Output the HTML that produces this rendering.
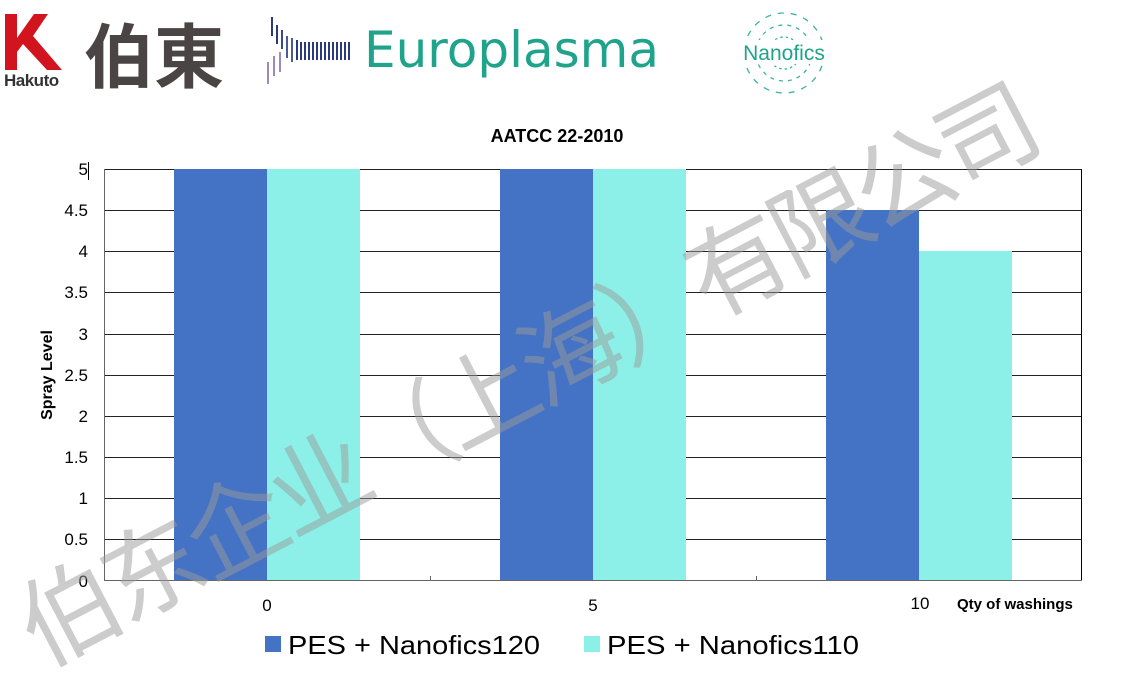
<!DOCTYPE html>
<html><head><meta charset="utf-8"><style>
html,body{margin:0;padding:0;background:#fff;}
body{width:1138px;height:677px;overflow:hidden;position:relative;font-family:"Liberation Sans",sans-serif;}
svg{display:block;}
</style></head><body>
<svg width="1138" height="677" viewBox="0 0 1138 677" xmlns="http://www.w3.org/2000/svg" style="position:absolute;left:0;top:0;overflow:hidden">
<polygon points="5,14 17,14 17,38 34,14 48,14 33,36 62,70 47,70 23,44 17,52 17,70 5,70" fill="#d2141e"/>
<text x="4" y="86" font-size="17" font-weight="bold" fill="#333" font-family="Liberation Sans,sans-serif" letter-spacing="-0.5">Hakuto</text>
<text x="84" y="82" font-size="70" fill="#4a4444" font-family="Liberation Sans,Noto Sans CJK SC,sans-serif" font-weight="bold">伯東</text>
<g stroke-width="2">
<line x1="272" y1="17" x2="272" y2="36" stroke="#2a3a7a"/>
<line x1="277" y1="25" x2="277" y2="44" stroke="#2a3a7a"/>
<line x1="282" y1="30" x2="282" y2="49" stroke="#3a4a8a"/>
<line x1="287" y1="36" x2="287" y2="58" stroke="#4a5a9a"/>
<line x1="292" y1="38" x2="292" y2="62" stroke="#4a5a9a"/>
<line x1="297" y1="40" x2="297" y2="60" stroke="#2a3a7a"/>
<line x1="301" y1="42" x2="301" y2="60" stroke="#2a3a7a"/>
<line x1="305" y1="42" x2="305" y2="60" stroke="#2a3a7a"/>
<line x1="309" y1="42" x2="309" y2="60" stroke="#2a3a7a"/>
<line x1="313" y1="42" x2="313" y2="60" stroke="#2a3a7a"/>
<line x1="317" y1="42" x2="317" y2="60" stroke="#2a3a7a"/>
<line x1="321" y1="42" x2="321" y2="60" stroke="#2a3a7a"/>
<line x1="325" y1="42" x2="325" y2="60" stroke="#2a3a7a"/>
<line x1="329" y1="42" x2="329" y2="60" stroke="#2a3a7a"/>
<line x1="333" y1="42" x2="333" y2="60" stroke="#2a3a7a"/>
<line x1="337" y1="42" x2="337" y2="60" stroke="#2a3a7a"/>
<line x1="341" y1="42" x2="341" y2="60" stroke="#2a3a7a"/>
<line x1="345" y1="42" x2="345" y2="60" stroke="#2a3a7a"/>
<line x1="349" y1="42" x2="349" y2="60" stroke="#2a3a7a"/>
<line x1="268" y1="62" x2="268" y2="84" stroke="#9a8ac0"/>
<line x1="274" y1="56" x2="274" y2="76" stroke="#9a8ac0"/>
<line x1="280" y1="52" x2="280" y2="72" stroke="#9a8ac0"/>
</g>
<text x="364" y="67" font-size="50" fill="#1fa38a" font-family="DejaVu Sans,sans-serif">Europlasma</text>
<g fill="none" stroke="#3cb3a0" stroke-width="1.3">
<circle cx="784" cy="53" r="16" stroke-dasharray="2.5 3"/>
<circle cx="784" cy="53" r="28" stroke-dasharray="4 5"/>
<circle cx="784" cy="53" r="40" stroke-dasharray="6 7"/>
</g>
<rect x="730" y="40" width="108" height="24" fill="#fff"/>
<text x="784" y="60" text-anchor="middle" font-size="21" fill="#1fa38a" font-family="Liberation Sans,sans-serif">Nanofics</text>

<text x="557" y="142" text-anchor="middle" font-size="18" font-weight="bold" fill="#000">AATCC 22-2010</text>
<g stroke="#222" stroke-width="1">
<line x1="104" y1="169.5" x2="1082" y2="169.5"/>
<line x1="104" y1="210.5" x2="1082" y2="210.5"/>
<line x1="104" y1="251.5" x2="1082" y2="251.5"/>
<line x1="104" y1="292.5" x2="1082" y2="292.5"/>
<line x1="104" y1="334.5" x2="1082" y2="334.5"/>
<line x1="104" y1="375.5" x2="1082" y2="375.5"/>
<line x1="104" y1="416.5" x2="1082" y2="416.5"/>
<line x1="104" y1="457.5" x2="1082" y2="457.5"/>
<line x1="104" y1="498.5" x2="1082" y2="498.5"/>
<line x1="104" y1="539.5" x2="1082" y2="539.5"/>
</g>
<rect x="174" y="169" width="93" height="412" fill="#4472c4"/>
<rect x="267" y="169" width="93" height="412" fill="#8cf0e8"/>
<rect x="500" y="169" width="93" height="412" fill="#4472c4"/>
<rect x="593" y="169" width="93" height="412" fill="#8cf0e8"/>
<rect x="826" y="210" width="93" height="371" fill="#4472c4"/>
<rect x="919" y="251" width="93" height="330" fill="#8cf0e8"/>
<line x1="104.5" y1="169" x2="104.5" y2="581" stroke="#666"/>
<line x1="1081.5" y1="169" x2="1081.5" y2="581" stroke="#000"/>
<line x1="104" y1="580.5" x2="1082" y2="580.5" stroke="#666"/>
<line x1="430.5" y1="576" x2="430.5" y2="581" stroke="#666"/>
<line x1="756.5" y1="576" x2="756.5" y2="581" stroke="#666"/>
<line x1="88.5" y1="162" x2="88.5" y2="180" stroke="#000"/>
<g font-size="17" fill="#000" text-anchor="end">
<text x="88" y="175">5</text><text x="88" y="216">4.5</text><text x="88" y="257">4</text>
<text x="88" y="298">3.5</text><text x="88" y="340">3</text><text x="88" y="381">2.5</text>
<text x="88" y="422">2</text><text x="88" y="463">1.5</text><text x="88" y="504">1</text>
<text x="88" y="545">0.5</text><text x="88" y="587">0</text>
</g>
<text transform="translate(52,375) rotate(-90)" text-anchor="middle" font-size="16" font-weight="bold">Spray Level</text>
<g font-size="17" text-anchor="middle">
<text x="267" y="611">0</text><text x="593" y="611">5</text><text x="920" y="609">10</text>
</g>
<text x="957" y="609" font-size="15" font-weight="bold">Qty of washings</text>
<rect x="265" y="636" width="16" height="16" fill="#4472c4"/>
<text x="288" y="654" font-size="26" textLength="252" lengthAdjust="spacingAndGlyphs">PES + Nanofics120</text>
<rect x="584" y="636" width="16" height="16" fill="#8cf0e8"/>
<text x="607" y="654" font-size="26" textLength="252" lengthAdjust="spacingAndGlyphs">PES + Nanofics110</text>
<text transform="translate(42,668) rotate(-27.5)" font-size="100" fill="#999" fill-opacity="0.5" textLength="1135" lengthAdjust="spacing" font-family="Noto Sans CJK SC,sans-serif">伯东企业（上海）有限公司</text>
</svg>
</body></html>
